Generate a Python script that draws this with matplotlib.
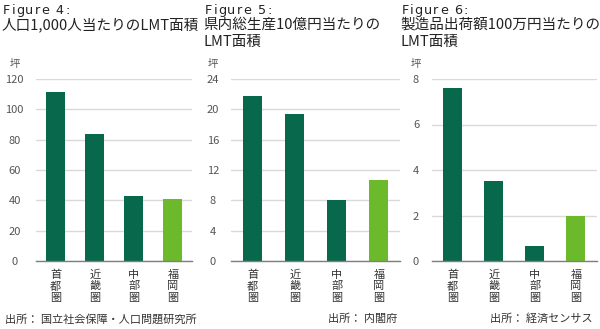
import matplotlib
matplotlib.use("Agg")
import matplotlib.pyplot as plt
from matplotlib.font_manager import FontProperties

plt.rcParams['font.family'] = ['Noto Sans CJK JP', 'DejaVu Sans']

categories = ['首都圏', '近畿圏', '中部圏', '福岡圏']
values_fig4 = [111.5, 83.6, 42.8, 40.7]
values_fig5 = [21.8, 19.4, 8.1, 10.7]
values_fig6 = [7.6, 3.5, 0.68, 1.97]

ticks_fig4 = [0, 20, 40, 60, 80, 100, 120]
ticks_fig5 = [0, 4, 8, 12, 16, 20, 24]
ticks_fig6 = [0, 2, 4, 6, 8]

fig_labels = ['Figure 4:', 'Figure 5:', 'Figure 6:']
titles = [['人口1,000人当たりのLMT面積'],
          ['県内総生産10億円当たりの', 'LMT面積'],
          ['製造品出荷額100万円当たりの', 'LMT面積']]
sources = ['出所： 国立社会保障・人口問題研究所', '出所： 内閣府', '出所： 経済センサス']
unit = '坪'

DARK = '#08684C'
LIGHT = '#6CBA2B'
bar_colors = [DARK, DARK, DARK, LIGHT]

W, H = 600, 329
fig = plt.figure(figsize=(W / 100, H / 100), dpi=100)
renderer = fig.canvas.get_renderer()

def px_axes(left, right, top, bottom):
    return fig.add_axes([left / W, 1 - bottom / H, (right - left) / W, (bottom - top) / H])

def tracked_text(x_px, y_px, s, size, tracking_px, color):
    prop = FontProperties(family='DejaVu Sans', size=size)
    w2, _, _ = renderer.get_text_width_height_descent('l', prop, ismath=False)
    for k, ch in enumerate(s):
        if k == 0:
            adv = 0.0
        else:
            w1, _, _ = renderer.get_text_width_height_descent(s[:k] + 'l', prop, ismath=False)
            adv = w1 - w2
        if ch == ' ':
            continue
        fig.text((x_px + adv + k * tracking_px) / W, 1 - y_px / H, ch, ha='left', va='top',
                 fontproperties=prop, color=color)

panels = [
    dict(vals=values_fig4, ticks=ticks_fig4, left=36, right=192.5, tlx=14.5, title_x=3, src_x=5, src_ha='left'),
    dict(vals=values_fig5, ticks=ticks_fig5, left=231.5, right=400, tlx=213, title_x=205, src_x=397, src_ha='right'),
    dict(vals=values_fig6, ticks=ticks_fig6, left=432, right=596.5, tlx=416, title_x=401.5, src_x=593, src_ha='right'),
]

for i, p in enumerate(panels):
    ax = px_axes(p['left'], p['right'], 79, 261)
    spacing = (p['right'] - p['left']) / 4
    x = list(range(len(categories)))
    ax.bar(x, p['vals'], width=19 / spacing, color=bar_colors, zorder=3)
    ax.set_xlim(-0.5, 3.5)
    ax.set_ylim(0, p['ticks'][-1])
    ax.set_yticks(p['ticks'])
    pad_pt = (p['left'] - p['tlx']) * 0.72
    ax.tick_params(axis='y', length=0, pad=pad_pt, labelsize=8, labelcolor='#555555')
    for lab in ax.get_yticklabels():
        lab.set_ha('center')
    ax.set_xticks(x)
    ax.set_xticklabels([])
    ax.tick_params(axis='x', length=0)
    # vertical category labels, one character per line
    for xi, cat in zip(x, categories):
        for k, ch in enumerate(cat):
            ax.text(xi, 0, ch, transform=ax.get_xaxis_transform() +
                    matplotlib.transforms.ScaledTranslation(0, -(14 + 11.3 * k) / 100, fig.dpi_scale_trans),
                    ha='center', va='center', fontsize=8, color='#333333')
    ax.grid(axis='y', color='#d9d9d9', linewidth=1.0, zorder=0)
    ax.set_axisbelow(True)
    for s in ['left', 'right', 'top']:
        ax.spines[s].set_visible(False)
    ax.spines['bottom'].set_color('#7f7f7f')
    ax.spines['bottom'].set_linewidth(1.0)
    ax.spines['bottom'].set_zorder(5)
    ax.set_facecolor('none')

    # unit label
    fig.text(p['tlx'] / W, 1 - 64 / H, unit, ha='center', va='center', fontsize=7.5, color='#555555')

    # titles
    tracked_text(p['title_x'], 4, fig_labels[i], 9.2, 1.4, '#222222')
    for j, line in enumerate(titles[i]):
        fig.text((p['title_x'] - 1.5) / W, 1 - (18 + 17 * j) / H, line, ha='left', va='top',
                 fontsize=10.5, color='#222222')
    # source
    fig.text(p['src_x'] / W, 1 - 319 / H, sources[i], ha=p['src_ha'], va='center',
             fontsize=8, color='#333333')

fig.savefig('out.png', dpi=100, facecolor='white')
